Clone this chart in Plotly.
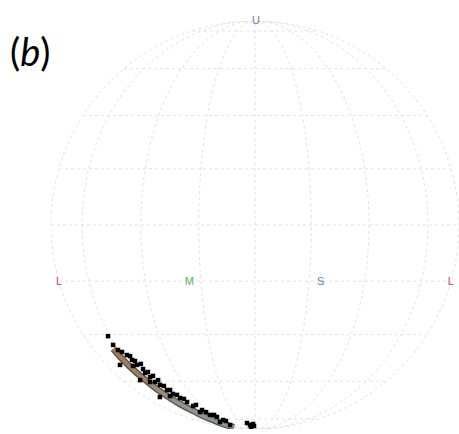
import numpy as np
import plotly.graph_objects as go

# ---- data (lune / sphere coordinates: latitude, longitude in degrees) ----
band_lat = [-37.4, -43.2, -49.8, -57.0, -65.4, -73.6, -82.3]
band_lon = [-61.0, -58.8, -55.6, -52.2, -47.4, -44.4, -50.0]
band_colors = ["#a87a58", "#a3805f", "#9a8a78", "#919489", "#8d9893", "#8a9a96"]

pts_lat = [-36.0, -38.5, -39.6, -41.4, -43.3, -44.9, -46.5, -48.2, -50.3, -51.6,
           -54.0, -55.9, -58.0, -60.2, -62.5, -65.1, -68.6, -70.2, -72.9, -78.6,
           -57.5, -49.5, -33.0, -43.3, -37.8, -40.0, -41.8, -42.9, -46.1, -47.7,
           -49.5, -52.1, -54.0, -56.4, -58.5, -61.9, -66.5, -68.6, -73.9, -43.7,
           -50.3, -57.0, -66.5, -75.0,
           -76.1, -78.6, -77.3, -81.9, -80.1]
pts_lon = [-59.3, -56.4, -54.6, -53.5, -52.6, -50.8, -51.5, -50.5, -50.1, -48.6,
           -47.2, -45.9, -43.9, -42.1, -41.1, -38.1, -37.2, -33.4, -32.2, -38.2,
           -60.2, -60.1, -59.2, -65.4, -58.2, -53.1, -52.1, -49.8, -49.2, -48.0,
           -47.0, -46.6, -45.1, -43.7, -41.8, -37.9, -37.0, -33.4, -30.9, -55.8,
           -53.7, -49.9, -42.5, -41.5,
           -9.4, -7.1, -2.6, -8.0, -1.6]

label_text = ["L", "M", "S", "L"]
label_lat = [-16.2, -16.2, -16.2, -16.2]
label_lon = [-88.5, -19.6, 19.6, 88.5]
label_colors = ["#d8404f", "#5cb25c", "#4f86c4", "#d8404f"]
top_label = "U"
top_color = "#9a63b8"

grid_lats = [-72, -50, -32.5, -16, 0, 16, 32.5, 50, 72]
grid_lons = [-89.9, -58, -34, -16, 0, 16, 34, 58, 89.9]

GRID = "#dedede"

fig = go.Figure()

# graticule
for la in grid_lats:
    lons = np.linspace(-89.9, 89.9, 181)
    fig.add_trace(go.Scattergeo(lat=[la] * len(lons), lon=lons, mode="lines",
                                line=dict(color=GRID, width=0.9, dash="dot"),
                                hoverinfo="skip", showlegend=False))
for lo in grid_lons:
    lats = np.linspace(-90, 90, 91)
    fig.add_trace(go.Scattergeo(lat=lats, lon=[lo] * len(lats), mode="lines",
                                line=dict(color=GRID, width=0.9, dash="dot"),
                                hoverinfo="skip", showlegend=False))

# band: dark under-stroke then coloured segments
fig.add_trace(go.Scattergeo(lat=band_lat, lon=band_lon, mode="lines",
                            line=dict(color="#505050", width=6.5),
                            hoverinfo="skip", showlegend=False))
for i in range(len(band_lat) - 1):
    fig.add_trace(go.Scattergeo(lat=band_lat[i:i + 2], lon=band_lon[i:i + 2], mode="lines",
                                line=dict(color=band_colors[i], width=4),
                                hoverinfo="skip", showlegend=False))

# points
fig.add_trace(go.Scattergeo(lat=pts_lat, lon=pts_lon, mode="markers",
                            marker=dict(color="black", size=4.5, symbol="square"),
                            showlegend=False))

# corner labels
fig.add_trace(go.Scattergeo(lat=label_lat, lon=label_lon, mode="text", text=label_text,
                            textfont=dict(color=label_colors, size=11, family="Liberation Sans"),
                            textposition="middle center", showlegend=False))

fig.update_geos(
    projection=dict(type="orthographic", rotation=dict(lon=0, lat=0, roll=0)),
    showland=False, showcoastlines=False, showcountries=False, showocean=False,
    showlakes=False, showrivers=False, showframe=False,
    lataxis=dict(showgrid=False), lonaxis=dict(showgrid=False),
    bgcolor="rgba(0,0,0,0)",
    domain=dict(x=[51 / 459, 1.0], y=[0.0, 1 - 16 / 434]),
)

# pole label sits on the sphere outline (outside the geo clip)
fig.add_annotation(text=top_label, xref="paper", yref="paper", x=256 / 459, y=1 - 20 / 434,
                   xanchor="center", yanchor="middle", showarrow=False,
                   font=dict(size=11, family="Liberation Sans", color=top_color))

fig.add_annotation(text="(<i>b</i>)", xref="paper", yref="paper", x=8 / 459, y=1 - 26 / 434,
                   xanchor="left", yanchor="top", showarrow=False,
                   font=dict(size=38, family="Lato", color="black"))

fig.update_layout(width=459, height=434, margin=dict(l=0, r=0, t=0, b=0),
                  paper_bgcolor="white", plot_bgcolor="white")

fig.write_html("out.html")
